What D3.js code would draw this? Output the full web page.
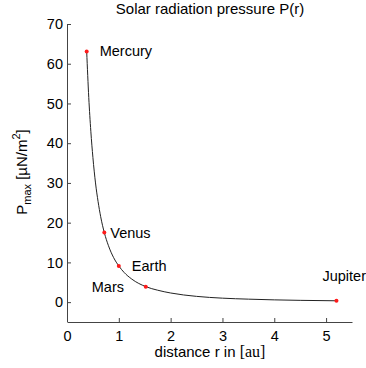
<!DOCTYPE html>
<html>
<head>
  <meta charset="utf-8">
  <style>
    body { margin: 0; background: #fff; }
    svg { display: block; font-family: "Liberation Sans", Arial, sans-serif; }
  </style>
</head>
<body>
  <svg id="viz" width="366" height="368"></svg>
  <script src="https://d3js.org/d3.v7.min.js"></script>
  <script>
    // curve
    var curveR = [0.38, 0.42, 0.46, 0.5, 0.55, 0.6, 0.65, 0.72, 0.8, 0.9, 1.0, 1.1, 1.25, 1.52, 1.75, 2.0, 2.5, 3.0, 3.5, 4.0, 4.5, 5.2];
    var curveP = [63.1, 51.5, 43, 36.4, 30, 25.3, 21.5, 17.5, 14.2, 11.2, 9.1, 7.5, 5.8, 3.9, 3.0, 2.3, 1.45, 1.0, 0.75, 0.57, 0.45, 0.34];

    var planets = ["Mercury", "Venus", "Earth", "Mars", "Jupiter"];
    var planetR = [0.38, 0.72, 1.0, 1.52, 5.2];
    var planetP = [63.1, 17.5, 9.1, 3.9, 0.34];

    var xTicks = [0, 1, 2, 3, 4, 5];
    var yTicks = [0, 10, 20, 30, 40, 50, 60, 70];

    var mLeft = 67, mRight = 352, mTop = 24, mBottom = 322;

    var svg = d3.select("#viz");

    var x = d3.scaleLinear().domain([0, 5.5]).range([mLeft, mRight]);
    var y = d3.scaleLinear().domain([-5, 70]).range([mBottom, mTop]);

    // axes, ticks pointing inward
    var xAxis = svg.append("g")
      .attr("transform", "translate(0," + mBottom + ")")
      .call(d3.axisBottom(x).tickValues(xTicks).tickFormat(d3.format("d"))
        .tickSizeInner(-4).tickSizeOuter(0).tickPadding(9));
    var yAxis = svg.append("g")
      .attr("transform", "translate(" + mLeft + ",0)")
      .call(d3.axisLeft(y).tickValues(yTicks).tickFormat(d3.format("d"))
        .tickSizeInner(-4).tickSizeOuter(0).tickPadding(4));

    [xAxis, yAxis].forEach(function(a) {
      a.select(".domain").attr("stroke", "#444");
      a.selectAll(".tick line").attr("stroke", "#444");
      a.selectAll("text").attr("font-size", 14.5).attr("fill", "#000")
        .attr("font-family", "Liberation Sans, Arial, sans-serif");
    });
    // left axis line runs down to the x axis
    yAxis.select(".domain").attr("d", "M0.5," + mTop + "V" + mBottom);

    var pts = curveR.map(function(r, i) { return [r, curveP[i]]; });
    var line = d3.line()
      .x(function(d) { return x(d[0]); })
      .y(function(d) { return y(d[1]); })
      .curve(d3.curveMonotoneX);

    svg.append("path")
      .datum(pts)
      .attr("d", line)
      .attr("fill", "none")
      .attr("stroke", "#222")
      .attr("stroke-width", 1);

    svg.selectAll("circle.planet")
      .data(planets)
      .enter()
      .append("circle")
      .attr("class", "planet")
      .attr("cx", function(d, i) { return x(planetR[i]); })
      .attr("cy", function(d, i) { return y(planetP[i]); })
      .attr("r", 2)
      .attr("fill", "#ff1a1a");

    // label offsets in pixels relative to each point
    var labelDx = [13, 6, 13, -54, -14];
    var labelDy = [5, 5, 5, 5, -20];
    svg.selectAll("text.planet")
      .data(planets)
      .enter()
      .append("text")
      .attr("class", "planet")
      .attr("x", function(d, i) { return x(planetR[i]) + labelDx[i]; })
      .attr("y", function(d, i) { return y(planetP[i]) + labelDy[i]; })
      .attr("font-size", 14.5)
      .text(function(d) { return d; });

    svg.append("text")
      .attr("x", 210)
      .attr("y", 14)
      .attr("text-anchor", "middle")
      .attr("font-size", 15)
      .text("Solar radiation pressure P(r)");

    var xl = svg.append("text")
      .attr("x", 210)
      .attr("y", 357)
      .attr("text-anchor", "middle")
      .attr("font-size", 15);
    xl.append("tspan").text("distance r in ");
    xl.append("tspan").attr("font-family", "Liberation Serif, serif").attr("font-size", 16).text("[au]");

    var yl = svg.append("text")
      .attr("transform", "translate(27,172) rotate(-90)")
      .attr("text-anchor", "middle")
      .attr("font-size", 15);
    yl.append("tspan").text("P");
    yl.append("tspan").attr("font-size", 11).attr("dy", 4).text("max");
    yl.append("tspan").attr("dy", -4).text(" [µN/m");
    yl.append("tspan").attr("font-size", 11).attr("dy", -7).text("2");
    yl.append("tspan").attr("dy", 7).text("]");
  </script>
</body>
</html>
